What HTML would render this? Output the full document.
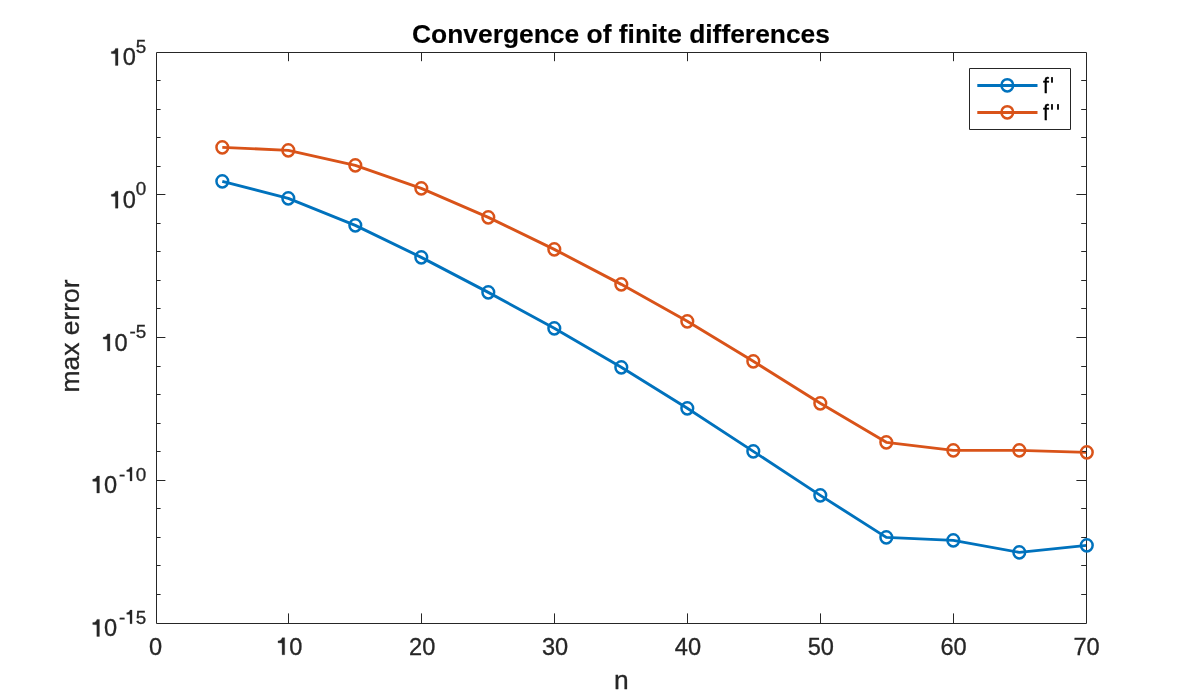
<!DOCTYPE html>
<html><head><meta charset="utf-8"><style>
html,body{margin:0;padding:0;background:#fff;width:1200px;height:700px;overflow:hidden}
svg{display:block;will-change:transform;font-family:"Liberation Sans",sans-serif}
.h1{fill-opacity:0;stroke-opacity:0}
</style></head><body>
<svg width="1200" height="700" viewBox="0 0 1200 700">
<polyline points="222.3,181.35 288.3,198.35 355.3,225.35 421.3,257.35 488.3,292.35 554.3,328.35 621.3,367.35 687.3,408.35 753.3,451.35 820.3,495.35 886.3,537.35 953.3,540.35 1019.3,552.35 1086.8,545.35" fill="none" stroke="#0072BD" stroke-width="2.9" stroke-linejoin="round"/>
<polyline points="222.3,147.35 288.3,150.35 355.3,165.35 421.3,188.35 488.3,217.35 554.3,249.35 621.3,284.35 687.3,321.35 753.3,361.35 820.3,403.35 886.3,442.35 953.3,450.35 1019.3,450.35 1086.8,452.35" fill="none" stroke="#D95319" stroke-width="2.9" stroke-linejoin="round"/>
<rect x="156.5" y="52.5" width="930.0" height="571.0" fill="none" stroke="#262626" stroke-width="1" stroke-linejoin="round"/>
<path d="M288.5 623.5V613.4M288.5 52.5V61.2M421.5 623.5V613.4M421.5 52.5V61.2M554.5 623.5V613.4M554.5 52.5V61.2M687.5 623.5V613.4M687.5 52.5V61.2M820.5 623.5V613.4M820.5 52.5V61.2M953.5 623.5V613.4M953.5 52.5V61.2M156.5 80.5H160.6M1086.5 80.5H1081.2M156.5 109.5H160.6M1086.5 109.5H1081.2M156.5 137.5H160.6M1086.5 137.5H1081.2M156.5 166.5H160.6M1086.5 166.5H1081.2M156.5 194.5H165.4M1086.5 194.5H1076.4M156.5 223.5H160.6M1086.5 223.5H1081.2M156.5 251.5H160.6M1086.5 251.5H1081.2M156.5 280.5H160.6M1086.5 280.5H1081.2M156.5 308.5H160.6M1086.5 308.5H1081.2M156.5 337.5H165.4M1086.5 337.5H1076.4M156.5 366.5H160.6M1086.5 366.5H1081.2M156.5 394.5H160.6M1086.5 394.5H1081.2M156.5 423.5H160.6M1086.5 423.5H1081.2M156.5 451.5H160.6M1086.5 451.5H1081.2M156.5 480.5H165.4M1086.5 480.5H1076.4M156.5 508.5H160.6M1086.5 508.5H1081.2M156.5 537.5H160.6M1086.5 537.5H1081.2M156.5 565.5H160.6M1086.5 565.5H1081.2M156.5 594.5H160.6M1086.5 594.5H1081.2" fill="none" stroke="#262626" stroke-width="1"/>
<path d="M216.45 181.35a5.85 6.15 0 1 0 11.7 0a5.85 6.15 0 1 0 -11.7 0M282.45 198.35a5.85 6.15 0 1 0 11.7 0a5.85 6.15 0 1 0 -11.7 0M349.45 225.35a5.85 6.15 0 1 0 11.7 0a5.85 6.15 0 1 0 -11.7 0M415.45 257.35a5.85 6.15 0 1 0 11.7 0a5.85 6.15 0 1 0 -11.7 0M482.45 292.35a5.85 6.15 0 1 0 11.7 0a5.85 6.15 0 1 0 -11.7 0M548.45 328.35a5.85 6.15 0 1 0 11.7 0a5.85 6.15 0 1 0 -11.7 0M615.45 367.35a5.85 6.15 0 1 0 11.7 0a5.85 6.15 0 1 0 -11.7 0M681.45 408.35a5.85 6.15 0 1 0 11.7 0a5.85 6.15 0 1 0 -11.7 0M747.45 451.35a5.85 6.15 0 1 0 11.7 0a5.85 6.15 0 1 0 -11.7 0M814.45 495.35a5.85 6.15 0 1 0 11.7 0a5.85 6.15 0 1 0 -11.7 0M880.45 537.35a5.85 6.15 0 1 0 11.7 0a5.85 6.15 0 1 0 -11.7 0M947.45 540.35a5.85 6.15 0 1 0 11.7 0a5.85 6.15 0 1 0 -11.7 0M1013.45 552.35a5.85 6.15 0 1 0 11.7 0a5.85 6.15 0 1 0 -11.7 0M1080.95 545.35a5.85 6.15 0 1 0 11.7 0a5.85 6.15 0 1 0 -11.7 0" fill="none" stroke="#0072BD" stroke-width="2.5"/>
<path d="M216.45 147.35a5.85 6.15 0 1 0 11.7 0a5.85 6.15 0 1 0 -11.7 0M282.45 150.35a5.85 6.15 0 1 0 11.7 0a5.85 6.15 0 1 0 -11.7 0M349.45 165.35a5.85 6.15 0 1 0 11.7 0a5.85 6.15 0 1 0 -11.7 0M415.45 188.35a5.85 6.15 0 1 0 11.7 0a5.85 6.15 0 1 0 -11.7 0M482.45 217.35a5.85 6.15 0 1 0 11.7 0a5.85 6.15 0 1 0 -11.7 0M548.45 249.35a5.85 6.15 0 1 0 11.7 0a5.85 6.15 0 1 0 -11.7 0M615.45 284.35a5.85 6.15 0 1 0 11.7 0a5.85 6.15 0 1 0 -11.7 0M681.45 321.35a5.85 6.15 0 1 0 11.7 0a5.85 6.15 0 1 0 -11.7 0M747.45 361.35a5.85 6.15 0 1 0 11.7 0a5.85 6.15 0 1 0 -11.7 0M814.45 403.35a5.85 6.15 0 1 0 11.7 0a5.85 6.15 0 1 0 -11.7 0M880.45 442.35a5.85 6.15 0 1 0 11.7 0a5.85 6.15 0 1 0 -11.7 0M947.45 450.35a5.85 6.15 0 1 0 11.7 0a5.85 6.15 0 1 0 -11.7 0M1013.45 450.35a5.85 6.15 0 1 0 11.7 0a5.85 6.15 0 1 0 -11.7 0M1080.95 452.35a5.85 6.15 0 1 0 11.7 0a5.85 6.15 0 1 0 -11.7 0" fill="none" stroke="#D95319" stroke-width="2.5"/>
<g id="lab" fill="#262626" stroke="#262626" stroke-width="0.3"><text x="155.50" y="654.7" text-anchor="middle" font-size="23.6">0</text>
<text x="289.36" y="654.7" text-anchor="middle" font-size="23.6"><tspan class="h1">1</tspan>0</text>
<text x="422.21" y="654.7" text-anchor="middle" font-size="23.6">20</text>
<text x="555.07" y="654.7" text-anchor="middle" font-size="23.6">30</text>
<text x="687.93" y="654.7" text-anchor="middle" font-size="23.6">40</text>
<text x="820.79" y="654.7" text-anchor="middle" font-size="23.6">50</text>
<text x="953.64" y="654.7" text-anchor="middle" font-size="23.6">60</text>
<text x="1086.50" y="654.7" text-anchor="middle" font-size="23.6">70</text>
<text x="146.3" y="65.40" text-anchor="end" font-size="23.6"><tspan class="h1">1</tspan>0<tspan dx="0" dy="-12.70" font-size="18.88">5</tspan></text>
<text x="146.3" y="208.15" text-anchor="end" font-size="23.6"><tspan class="h1">1</tspan>0<tspan dx="0" dy="-12.70" font-size="18.88">0</tspan></text>
<text x="146.3" y="350.90" text-anchor="end" font-size="23.6"><tspan class="h1">1</tspan>0<tspan dx="1.8" dy="-12.70" font-size="18.88">-5</tspan></text>
<text x="146.3" y="493.05" text-anchor="end" font-size="23.6"><tspan class="h1">1</tspan>0<tspan dx="1.8" dy="-12.10" font-size="18.88">-<tspan class="h1">1</tspan>0</tspan></text>
<text x="146.3" y="636.40" text-anchor="end" font-size="23.6"><tspan class="h1">1</tspan>0<tspan dx="1.8" dy="-12.70" font-size="18.88">-<tspan class="h1">1</tspan>5</tspan></text>
<text x="621.3" y="688.6" text-anchor="middle" font-size="26.4">n</text>
<text transform="translate(78.6,336) rotate(-90)" text-anchor="middle" font-size="26.4">max error</text></g>
<g fill="#262626" stroke="#262626" stroke-width="0.3"><path transform="translate(276.23,654.70) scale(1.0000)" d="M8.46 -17 L8.46 0 L5.86 0 L5.86 -11.6 L1.76 -11.9 L1.76 -13.8 C3.7 -13.9 5.3 -14.6 6.0 -17 Z"/><path transform="translate(109.55,65.40) scale(1.0000)" d="M8.46 -17 L8.46 0 L5.86 0 L5.86 -11.6 L1.76 -11.9 L1.76 -13.8 C3.7 -13.9 5.3 -14.6 6.0 -17 Z"/><path transform="translate(109.55,208.15) scale(1.0000)" d="M8.46 -17 L8.46 0 L5.86 0 L5.86 -11.6 L1.76 -11.9 L1.76 -13.8 C3.7 -13.9 5.3 -14.6 6.0 -17 Z"/><path transform="translate(101.47,350.90) scale(1.0000)" d="M8.46 -17 L8.46 0 L5.86 0 L5.86 -11.6 L1.76 -11.9 L1.76 -13.8 C3.7 -13.9 5.3 -14.6 6.0 -17 Z"/><path transform="translate(90.97,493.05) scale(1.0000)" d="M8.46 -17 L8.46 0 L5.86 0 L5.86 -11.6 L1.76 -11.9 L1.76 -13.8 C3.7 -13.9 5.3 -14.6 6.0 -17 Z"/><path transform="translate(125.30,480.95) scale(0.8000)" d="M8.46 -17 L8.46 0 L5.86 0 L5.86 -11.6 L1.76 -11.9 L1.76 -13.8 C3.7 -13.9 5.3 -14.6 6.0 -17 Z"/><path transform="translate(90.97,636.40) scale(1.0000)" d="M8.46 -17 L8.46 0 L5.86 0 L5.86 -11.6 L1.76 -11.9 L1.76 -13.8 C3.7 -13.9 5.3 -14.6 6.0 -17 Z"/><path transform="translate(125.30,623.70) scale(0.8000)" d="M8.46 -17 L8.46 0 L5.86 0 L5.86 -11.6 L1.76 -11.9 L1.76 -13.8 C3.7 -13.9 5.3 -14.6 6.0 -17 Z"/></g>
<text x="621" y="43" text-anchor="middle" font-size="26.4" font-weight="bold" fill="#000" stroke="#000" stroke-width="0.15">Convergence of finite differences</text>
<rect x="969.5" y="68.5" width="101" height="61" fill="#fff" stroke="#262626" stroke-width="1" stroke-linejoin="round"/>
<path d="M977.3 85.45H1037.5" stroke="#0072BD" stroke-width="2.9"/>
<ellipse cx="1007.3" cy="85.30" rx="5.85" ry="6.15" fill="none" stroke="#0072BD" stroke-width="2.5"/>
<text x="1043" y="92.8" font-size="21.2" fill="#000" stroke="#000" stroke-width="0.3">f</text>
<rect x="1051.1" y="77.0" width="1.8" height="5.8" rx="0.5" fill="#000"/>
<path d="M977.3 112.45H1037.5" stroke="#D95319" stroke-width="2.9"/>
<ellipse cx="1007.3" cy="112.30" rx="5.85" ry="6.15" fill="none" stroke="#D95319" stroke-width="2.5"/>
<text x="1043" y="119.8" font-size="21.2" fill="#000" stroke="#000" stroke-width="0.3">f</text>
<rect x="1051.1" y="104.0" width="1.8" height="5.8" rx="0.5" fill="#000"/>
<rect x="1057.1" y="104.0" width="1.8" height="5.8" rx="0.5" fill="#000"/>
</svg>
</body></html>
